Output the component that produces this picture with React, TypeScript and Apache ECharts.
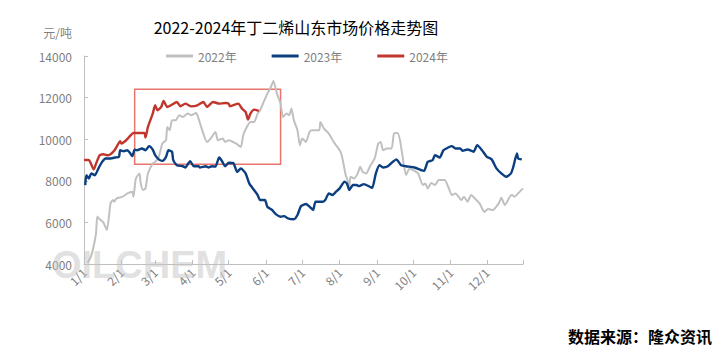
import React, { useEffect, useRef } from "react";
import * as echarts from "echarts";

const titleText = "2022-2024年丁二烯山东市场价格走势图";
const unitText = "元/吨";
const sourceText = "数据来源：隆众资讯";
const watermarkText = "OILCHEM";
const seriesNames = ["2022年", "2023年", "2024年"];
const monthLengths = [31, 28, 31, 30, 31, 30, 31, 31, 30, 31, 30, 31];

// day-of-year index (0 = 1/1) and price values
const days2022 = [3, 6, 8, 10, 11, 13, 16, 19, 22, 24, 25, 27, 32, 36, 40, 41, 43, 46, 47, 49, 51, 53, 57, 59, 62, 65, 68, 69, 71, 73, 76, 79, 82, 86, 89, 93, 95, 98, 102, 105, 109, 111, 115, 117, 120, 126, 130, 132, 135, 138, 141, 144, 146, 149, 152, 155, 157, 160, 163, 165, 168, 170, 172, 174, 177, 179, 181, 184, 187, 189, 195, 196, 199, 203, 207, 212, 214, 217, 219, 220, 221, 224, 227, 229, 231, 234, 237, 241, 244, 246, 248, 251, 255, 257, 260, 262, 264, 267, 270, 273, 277, 281, 283, 285, 288, 291, 294, 299, 302, 305, 308, 313, 315, 318, 321, 324, 328, 332, 335, 339, 344, 346, 349, 353, 355, 357, 360, 364];
const values2022 = [4050, 4400, 4850, 5500, 6280, 6150, 6000, 5640, 6915, 7075, 6995, 7155, 7235, 7395, 7475, 7235, 8115, 8355, 7875, 7555, 7635, 8355, 8835, 8910, 9155, 9795, 9955, 10590, 10430, 10910, 10910, 11150, 11070, 11230, 11150, 11260, 10990, 10430, 9870, 10030, 10350, 9955, 10030, 9870, 9955, 9795, 9630, 10190, 10590, 10830, 10830, 11230, 11390, 11790, 12190, 12510, 12800, 12190, 11710, 11070, 11230, 11150, 11470, 10910, 10430, 9713, 10030, 9870, 10350, 10430, 10430, 10830, 10510, 10270, 9870, 9470, 9155, 8273, 7955, 7715, 8195, 8115, 8355, 8680, 8433, 8355, 8680, 9075, 9795, 9870, 9470, 9555, 9555, 10270, 10300, 9955, 9233, 8273, 8595, 8515, 8355, 7795, 7875, 7635, 7900, 7795, 8035, 8035, 7715, 7315, 7395, 7075, 7235, 6995, 7315, 7155, 6915, 6500, 6650, 6595, 6930, 7180, 6835, 7235, 7315, 7235, 7400, 7635];

const days2023 = [1, 2, 4, 6, 9, 12, 15, 18, 22, 26, 29, 30, 33, 36, 38, 40, 42, 44, 48, 51, 54, 57, 59, 62, 65, 68, 70, 73, 74, 77, 82, 84, 88, 91, 95, 96, 101, 103, 106, 109, 112, 114, 117, 120, 124, 127, 130, 134, 137, 141, 144, 146, 150, 152, 156, 159, 163, 166, 169, 174, 177, 180, 184, 187, 190, 192, 198, 200, 203, 206, 209, 212, 216, 218, 220, 223, 226, 228, 232, 237, 239, 242, 245, 248, 252, 256, 259, 263, 267, 274, 280, 282, 285, 289, 291, 295, 298, 302, 305, 308, 312, 314, 318, 323, 326, 330, 334, 338, 342, 346, 350, 354, 356, 359, 360, 363];
const values2023 = [7790, 8270, 8110, 8350, 8270, 8600, 8910, 9075, 9075, 9120, 9150, 9470, 9420, 9470, 9345, 9185, 9500, 9470, 9555, 9470, 9665, 9500, 9230, 9030, 8960, 9150, 9470, 9390, 8990, 8750, 8700, 8640, 8945, 8700, 8700, 8640, 8700, 8640, 8700, 8680, 9120, 8990, 8700, 8865, 8835, 8430, 8595, 8355, 7875, 7555, 7315, 7075, 7075, 6755, 6595, 6400, 6275, 6300, 6195, 6150, 6355, 6785, 6883, 6755, 6595, 6995, 6995, 7075, 7395, 7315, 7475, 7635, 7955, 7875, 7555, 7795, 7795, 7745, 7840, 7715, 7660, 8355, 8750, 8640, 8700, 8910, 9030, 8750, 8700, 8640, 8500, 8480, 8910, 8990, 9230, 9120, 9470, 9600, 9665, 9555, 9555, 9440, 9505, 9400, 9713, 9470, 9155, 9030, 8595, 8355, 8195, 8355, 8680, 9315, 9075, 9030];

const days2024 = [0, 4, 8, 10, 13, 16, 19, 22, 25, 27, 30, 31, 34, 37, 41, 50, 51, 53, 57, 59, 61, 64, 66, 69, 72, 77, 80, 84, 89, 94, 99, 102, 107, 112, 117, 120, 121, 128, 131, 134, 136, 138, 141, 145];
const values2024 = [9000, 9000, 8550, 8830, 9230, 9280, 9230, 9280, 9440, 9630, 9900, 9790, 9900, 10080, 10300, 10300, 10080, 10590, 11230, 11630, 11390, 11550, 11840, 11550, 11630, 11790, 11580, 11710, 11580, 11630, 11790, 11550, 11790, 11710, 11740, 11710, 11580, 11710, 11470, 11310, 10945, 11230, 11420, 11360];

// highlighted window (day index, price)
const boxStartDay = 42;
const boxEndDay = 163;
const boxTop = 12400;
const boxBottom = 8800;

const yMin = 4000;
const yMax = 14000;
const yInterval = 2000;

const colors = ["#c0c0c0", "#0b3f80", "#c1362c"];
const font = "'Noto Sans CJK SC', 'Noto Sans', sans-serif";

function buildCategories(): string[] {
  const out: string[] = [];
  monthLengths.forEach((len, m) => {
    for (let d = 1; d <= len; d++) out.push(`${m + 1}/${d}`);
  });
  return out;
}

function pairs(days: number[], vals: number[]) {
  return days.map((d, i) => [d, vals[i]]);
}

export default function App() {
  const ref = useRef<HTMLDivElement>(null);
  useEffect(() => {
    if (!ref.current) return;
    const chart = echarts.init(ref.current, null, { renderer: "svg" });
    const categories = buildCategories();
    const lastIdx = categories.length - 1;
    const seriesData = [pairs(days2022, values2022), pairs(days2023, values2023), pairs(days2024, values2024)];
    chart.setOption({
      animation: false,
      textStyle: { fontFamily: font },
      title: {
        text: titleText,
        left: 291,
        top: 14,
        textAlign: "center",
        textStyle: { fontSize: 16, fontWeight: "normal", color: "#000", fontFamily: font },
      },
      legend: {
        left: 161,
        top: 45,
        icon: "rect",
        itemWidth: 27,
        itemHeight: 3,
        itemGap: 35,
        textStyle: { color: "#7f7f7f", fontSize: 12, fontFamily: font },
        data: seriesNames,
      },
      grid: { left: 84, right: 196, top: 56, bottom: 91, containLabel: false },
      xAxis: {
        type: "category",
        data: categories,
        boundaryGap: false,
        axisLine: { lineStyle: { color: "#bfbfbf" } },
        axisTick: {
          inside: true,
          length: 4,
          lineStyle: { color: "#bfbfbf" },
          interval: (i: number, v: string) => /^\d+\/1$/.test(v) || i === lastIdx,
        },
        axisLabel: {
          rotate: 45,
          color: "#7f7f7f",
          fontSize: 12,
          margin: 6,
          interval: (i: number, v: string) => /^\d+\/1$/.test(v),
        },
        splitLine: { show: false },
      },
      yAxis: {
        type: "value",
        min: yMin,
        max: yMax,
        interval: yInterval,
        name: unitText,
        nameLocation: "end",
        nameGap: 18,
        nameTextStyle: { color: "#7f7f7f", fontSize: 12, align: "right", padding: [0, 12, 0, 0] },
        axisLine: { show: true, lineStyle: { color: "#bfbfbf" } },
        axisTick: { show: true, inside: true, length: 4, lineStyle: { color: "#bfbfbf" } },
        axisLabel: { color: "#7f7f7f", fontSize: 12, margin: 12, formatter: (v: number) => String(v) },
        splitLine: { show: false },
      },
      series: seriesNames.map((name, k) => ({
        name,
        type: "line",
        data: seriesData[k],
        showSymbol: false,
        symbol: "none",
        smooth: 0.2,
        z: 2 + k,
        lineStyle: { color: colors[k], width: k === 0 ? 2 : 2.4 },
        itemStyle: { color: colors[k] },
        ...(k === 2
          ? {
              markArea: {
                silent: true,
                itemStyle: { color: "rgba(0,0,0,0)", borderColor: "#e8766d", borderWidth: 1.5 },
                label: { show: false },
                data: [[{ coord: [boxStartDay, boxTop] }, { coord: [boxEndDay, boxBottom] }]],
              },
            }
          : {}),
      })),
      graphic: [
        {
          type: "text",
          left: 52,
          top: 246,
          z: 100,
          silent: true,
          style: {
            text: watermarkText,
            font: "bold 38px 'Liberation Sans', Arial, sans-serif",
            fill: "rgba(195,195,195,0.5)",
          },
        },
        {
          type: "text",
          right: 7,
          top: 328,
          style: {
            text: sourceText,
            font: `bold 16px ${font}`,
            fill: "#000",
          },
        },
      ],
    });
    return () => chart.dispose();
  }, []);
  return (
    <div
      ref={ref}
      style={{ position: "fixed", left: 0, top: 0, width: 719, height: 355, background: "#fff" }}
    />
  );
}
